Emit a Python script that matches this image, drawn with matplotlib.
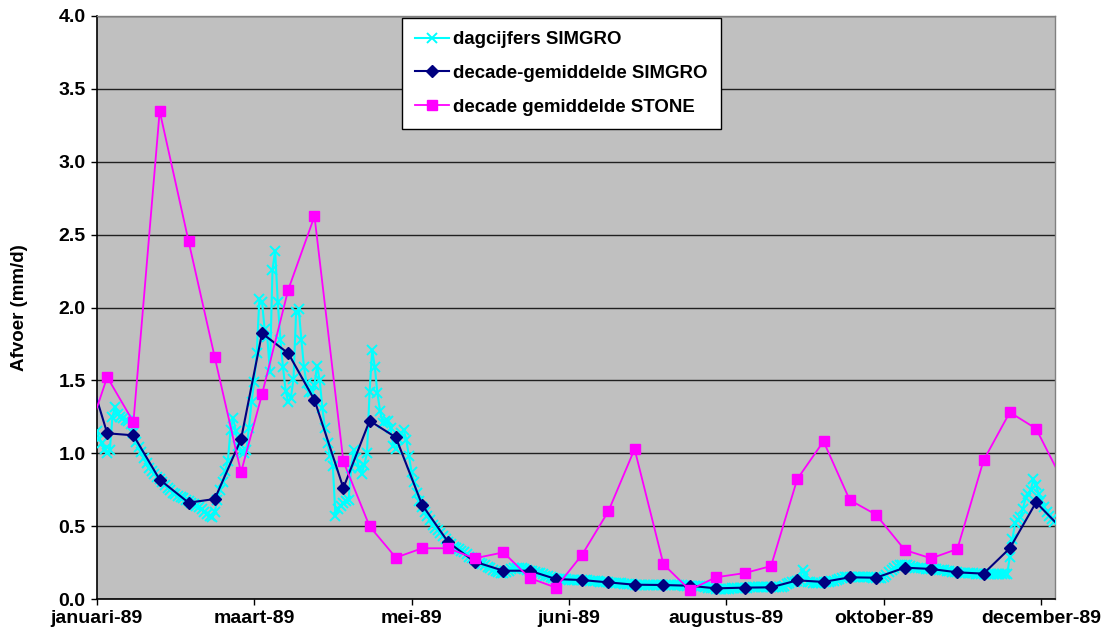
import matplotlib
matplotlib.use("Agg")
import matplotlib.pyplot as plt
import matplotlib.dates as mdates
import pandas as pd
from datetime import datetime

# ---- daily values SIMGRO (mm/d), 1989 ----
jan = [1.15, 1.10, 1.07, 1.03, 1.00, 1.02, 1.25, 1.32, 1.27, 1.25,
       1.24, 1.23, 1.22, 1.20, 1.14, 1.08, 1.04, 1.01, 0.97, 0.93,
       0.90, 0.88, 0.86, 0.84, 0.82, 0.80, 0.78, 0.76, 0.75, 0.73, 0.72]
feb = [0.71, 0.70, 0.69, 0.68, 0.67, 0.66, 0.65, 0.64, 0.63, 0.62,
       0.60, 0.58, 0.57, 0.56, 0.60, 0.68, 0.75, 0.80, 0.88, 0.95,
       1.16, 1.24, 1.15, 1.05, 1.01, 1.00, 1.02, 1.17]
mar = [1.35, 1.49, 1.69, 2.06, 2.04, 1.85, 1.80, 1.56, 2.26, 2.39,
       2.04, 1.78, 1.59, 1.43, 1.35, 1.38, 1.51, 1.97, 1.99, 1.78,
       1.59, 1.48, 1.42, 1.42, 1.47, 1.60, 1.50, 1.31, 1.17, 1.07, 0.98]
apr = [0.91, 0.57, 0.62, 0.64, 0.66, 0.67, 0.68, 0.90, 1.02, 0.97,
       0.90, 0.86, 0.92, 1.00, 1.42, 1.71, 1.59, 1.41, 1.29, 1.21,
       1.22, 1.22, 1.17, 1.05, 1.03, 1.10, 1.14, 1.16, 1.09, 0.98]
may = [0.87, 0.80, 0.73, 0.67, 0.63, 0.60, 0.57, 0.54, 0.51, 0.49,
       0.47, 0.45, 0.43, 0.41, 0.39, 0.38, 0.36, 0.35, 0.34, 0.33,
       0.32, 0.31, 0.29, 0.28, 0.27, 0.26, 0.25, 0.24, 0.23, 0.22, 0.21]
jun = [0.20, 0.19, 0.185, 0.18, 0.18, 0.185, 0.195, 0.205, 0.21, 0.21,
       0.21, 0.21, 0.205, 0.20, 0.195, 0.19, 0.185, 0.18, 0.175, 0.17,
       0.16, 0.155, 0.15, 0.145, 0.14, 0.138, 0.136, 0.135, 0.134, 0.133]
jul = [0.132, 0.131, 0.130, 0.130, 0.129, 0.128, 0.127, 0.126, 0.125, 0.124,
       0.122, 0.120, 0.118, 0.116, 0.114, 0.113, 0.112, 0.110, 0.109, 0.108,
       0.106, 0.104, 0.102, 0.100, 0.099, 0.098, 0.097, 0.096, 0.095, 0.094, 0.093]
aug = [0.095, 0.096, 0.097, 0.097, 0.096, 0.096, 0.095, 0.095, 0.094, 0.094,
       0.094, 0.093, 0.092, 0.091, 0.091, 0.090, 0.090, 0.089, 0.089, 0.088,
       0.082, 0.078, 0.075, 0.073, 0.072, 0.071, 0.070, 0.070, 0.071, 0.072, 0.073]
sep = [0.074, 0.075, 0.076, 0.077, 0.078, 0.078, 0.079, 0.079, 0.080, 0.080,
       0.080, 0.080, 0.081, 0.081, 0.080, 0.080, 0.079, 0.080, 0.085, 0.090,
       0.100, 0.110, 0.115, 0.120, 0.125, 0.130, 0.200, 0.170, 0.120, 0.115]
octo = [0.110, 0.108, 0.110, 0.112, 0.115, 0.118, 0.120, 0.122, 0.125, 0.130,
        0.140, 0.145, 0.148, 0.150, 0.150, 0.150, 0.152, 0.152, 0.153, 0.153,
        0.150, 0.150, 0.148, 0.146, 0.145, 0.144, 0.143, 0.150, 0.165, 0.185, 0.200]
nov = [0.215, 0.225, 0.230, 0.232, 0.232, 0.230, 0.225, 0.220, 0.215, 0.210,
       0.210, 0.210, 0.208, 0.206, 0.205, 0.204, 0.203, 0.202, 0.200, 0.200,
       0.195, 0.190, 0.186, 0.184, 0.182, 0.180, 0.178, 0.177, 0.176, 0.175]
dec = [0.175, 0.174, 0.174, 0.173, 0.173, 0.172, 0.172, 0.172, 0.172, 0.171,
       0.171, 0.170, 0.170, 0.170, 0.29, 0.41, 0.52, 0.54, 0.56, 0.62,
       0.69, 0.72, 0.75, 0.82, 0.78, 0.72, 0.68, 0.63, 0.60, 0.57, 0.55]
jan90 = [0.53]

# ---- decade means (plotted on the 5th, 15th, 25th) ----
decade_simgro = [1.79,
                 1.137, 1.123, 0.819, 0.661, 0.686, 1.096, 1.823, 1.686, 1.365,
                 0.762, 1.223, 1.109, 0.647, 0.389, 0.256, 0.194, 0.194, 0.137,
                 0.130, 0.114, 0.098, 0.096, 0.091, 0.073, 0.078, 0.080, 0.128,
                 0.117, 0.149, 0.146, 0.215, 0.206, 0.183, 0.174, 0.348, 0.663,
                 0.46]
decade_stone = [0.93,
                1.523, 1.214, 3.348, 2.456, 1.658, 0.869, 1.404, 2.122, 2.626,
                0.945, 0.499, 0.284, 0.348, 0.348, 0.279, 0.320, 0.144, 0.078,
                0.304, 0.602, 1.029, 0.238, 0.062, 0.149, 0.178, 0.226, 0.823,
                1.082, 0.679, 0.579, 0.336, 0.279, 0.343, 0.951, 1.281, 1.169,
                0.78]

tick_labels = ["januari-89", "maart-89", "mei-89", "juni-89",
               "augustus-89", "oktober-89", "december-89"]
legend_labels = ["dagcijfers SIMGRO", "decade-gemiddelde SIMGRO",
                 "decade gemiddelde STONE"]
y_label = "Afvoer (mm/d)"

# ---- build dates ----
daily_vals = jan + feb + mar + apr + may + jun + jul + aug + sep + octo + nov + dec + jan90
daily_dates = pd.date_range("1989-01-01", periods=len(daily_vals), freq="D")

decade_dates = [datetime(1988, 12, 25)]
for m in range(1, 13):
    for d in (5, 15, 25):
        decade_dates.append(datetime(1989, m, d))
decade_dates.append(datetime(1990, 1, 5))

FONT = ["Liberation Sans", "DejaVu Sans"]
plt.rcParams["font.family"] = FONT
plt.rcParams["font.weight"] = "bold"

fig = plt.figure(figsize=(11.02, 6.39), dpi=100)
ax = fig.add_axes([96.7 / 1102, 40 / 639, 958.5 / 1102, 583 / 639])
ax.set_facecolor("#C0C0C0")

ax.plot(daily_dates, daily_vals, color="#00FFFF", lw=1.5, marker="x",
        ms=7, mew=1.4, label=legend_labels[0], zorder=3)
ax.plot(decade_dates, decade_simgro, color="#000080", lw=1.5, marker="D",
        ms=6, label=legend_labels[1], zorder=4)
ax.plot(decade_dates, decade_stone, color="#FF00FF", lw=1.3, marker="s",
        ms=7, label=legend_labels[2], zorder=5)

start = datetime(1989, 1, 1)
ax.set_xlim(mdates.date2num(start), mdates.date2num(datetime(1990, 1, 1)) + 0.3)
ax.set_ylim(0, 4.0)

tick_pos = [mdates.date2num(start) + 60 * i for i in range(len(tick_labels))]
ax.set_xticks(tick_pos)
ax.set_xticklabels(tick_labels)
yt = [0.5 * i for i in range(9)]
ax.set_yticks(yt)
ax.set_yticklabels([f"{v:.1f}" for v in yt])

ax.grid(axis="y", color="#202020", lw=1.0, zorder=1)
ax.set_axisbelow(True)
ax.tick_params(axis="both", direction="out", length=4, width=1.0,
               labelsize=14, color="black")
ax.tick_params(axis="x", pad=4)
ax.tick_params(axis="y", pad=4)
for lab in ax.get_xticklabels() + ax.get_yticklabels():
    lab.set_fontweight("bold")

for s in ("left", "bottom"):
    ax.spines[s].set_color("black")
    ax.spines[s].set_linewidth(1.2)
for s in ("top", "right"):
    ax.spines[s].set_color("#808080")
    ax.spines[s].set_linewidth(1.0)

ax.set_ylabel(y_label, fontsize=13.5, fontweight="bold", labelpad=22)

leg = ax.legend(loc="upper left", bbox_to_anchor=(402 / 1102, 1 - 18 / 639),
                bbox_transform=fig.transFigure, frameon=True, fancybox=False,
                edgecolor="black", framealpha=1.0, numpoints=1,
                prop={"family": FONT, "weight": "bold", "size": 13.4},
                handlelength=1.8, handletextpad=0.25, labelspacing=0.9,
                borderpad=0.7, borderaxespad=0)
leg.get_frame().set_linewidth(1.0)
leg.set_zorder(10)

fig.savefig("out.png", dpi=100, facecolor="white")
